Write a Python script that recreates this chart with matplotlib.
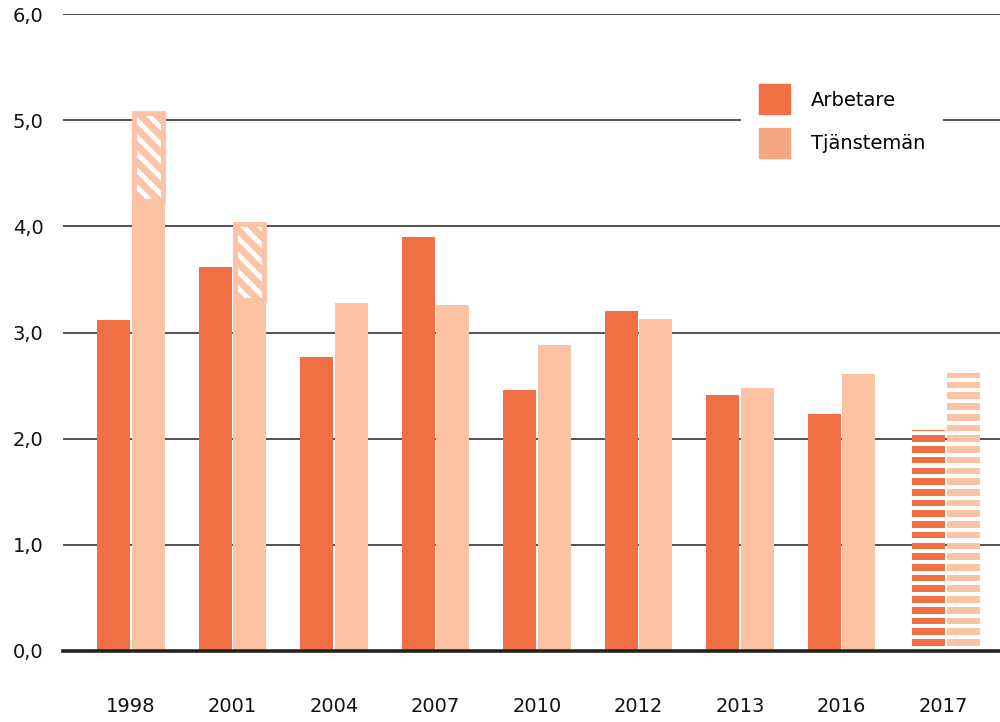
import numpy as np
import matplotlib
matplotlib.use("Agg")
import matplotlib.pyplot as plt
from matplotlib.patches import Patch

years = ['1998', '2001', '2004', '2007', '2010', '2012', '2013', '2016', '2017']
arbetare = [3.12, 3.62, 2.77, 3.90, 2.46, 3.20, 2.41, 2.23, 2.08]
tjansteman = [4.23, 3.30, 3.28, 3.26, 2.88, 3.13, 2.48, 2.61, 2.62]
# upper, hatched part of the bar (1998 and 2001 only)
tjansteman_extra_top = [5.08, 4.03, None, None, None, None, None, None, None]
striped_year = '2017'

c_arb = '#f26f44'
c_tjm = '#fcc2a4'
c_tjm_legend = '#f5a683'

plt.rcParams['font.family'] = ['DejaVu Sans']
plt.rcParams['hatch.linewidth'] = 3.5

fig = plt.figure(figsize=(10, 7.22), dpi=100)
ax = fig.add_axes([0.063, 71 / 722, 0.937, 637 / 722])

x = np.arange(len(years))
w = 0.325
off = 0.17

for i, yr in enumerate(years):
    if yr == striped_year:
        for xc, val, col in [(x[i] - off + 0.03, arbetare[i], c_arb),
                             (x[i] + off + 0.03, tjansteman[i], c_tjm)]:
            bottoms = np.arange(0.05, val, 0.101)
            heights = np.minimum(0.062, val - bottoms)
            ax.bar(np.full(len(bottoms), xc), heights, w, bottom=bottoms,
                   color=col, lw=0, zorder=3)
        continue
    ax.bar(x[i] - off, arbetare[i], w, color=c_arb, lw=0, zorder=3)
    ax.bar(x[i] + off, tjansteman[i], w, color=c_tjm, lw=0, zorder=3)
    top = tjansteman_extra_top[i]
    if top is not None:
        h = top - tjansteman[i]
        ax.bar(x[i] + off, h, w - 0.02, bottom=tjansteman[i], color=c_tjm,
               edgecolor='white', hatch='\\\\', lw=0, zorder=3)
        ax.bar(x[i] + off, h - 0.02, w - 0.04, bottom=tjansteman[i] + 0.01,
               fill=False, edgecolor=c_tjm, lw=3.5, zorder=4)

ax.set_xlim(-0.67, 8.56)
ax.set_ylim(0, 6)
ax.set_yticks(np.arange(0, 7))
ax.set_yticklabels([f'{v:.1f}'.replace('.', ',') for v in np.arange(0, 7)])
ax.set_xticks(x)
ax.set_xticklabels(years)
ax.tick_params(axis='both', length=0, labelsize=14, labelcolor='#111111')
ax.tick_params(axis='y', pad=14)
ax.tick_params(axis='x', pad=33)
for s in ax.spines.values():
    s.set_visible(False)
ax.set_axisbelow(True)
ax.yaxis.grid(True, color='#333333', lw=1.2)
ax.axhline(0, color='#222222', lw=2.6, zorder=5, clip_on=False)

handles = [Patch(color=c_arb), Patch(color=c_tjm_legend)]
leg = ax.legend(handles, ['Arbetare', 'Tjänstemän'], loc='upper left',
                bbox_to_anchor=(0.7236, 0.917), fontsize=14, frameon=True,
                fancybox=False, facecolor='white', edgecolor='none',
                framealpha=1, borderpad=0.9, handlelength=1.6,
                handleheight=2.0, handletextpad=1.1, labelspacing=0.7,
                borderaxespad=0)
leg.set_zorder(6)

fig.savefig('out.png', dpi=100)
